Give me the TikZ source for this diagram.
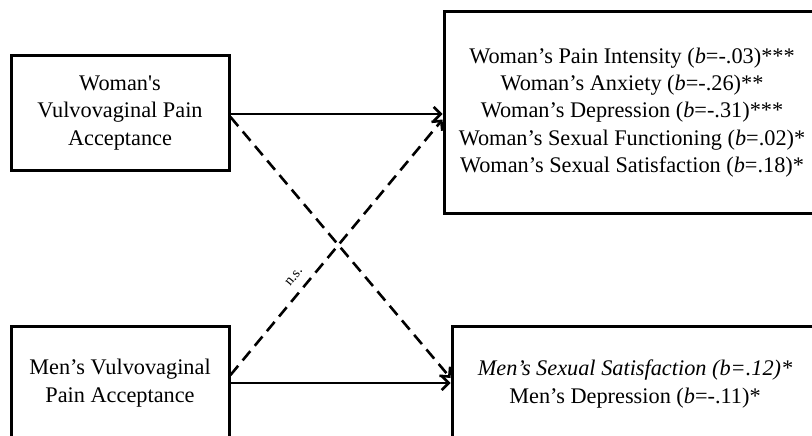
\documentclass[tikz,border=0pt]{standalone}
\usepackage{fontspec}
\setmainfont{Liberation Serif}
\usetikzlibrary{arrows.meta}
\begin{document}
\begin{tikzpicture}[x=1pt,y=-1pt,
  boxnode/.style={draw=black, line width=3pt, inner sep=0pt, align=center,
    font=\fontsize{22.3}{27.3}\selectfont},
  arr/.style={line width=2.6pt, -{Straight Barb[length=7pt,width=14pt,line width=2.6pt]}},
  dasharr/.style={arr, dash pattern=on 12pt off 7pt},
  nslabel/.style={font=\fontsize{14.5}{16}\selectfont, inner sep=0pt, above=9pt}]
\useasboundingbox (0,0) rectangle (812,436);
\node[boxnode, minimum width=218pt, minimum height=114pt] (wl) at (120,113)
  {Woman\textquotesingle s\\Vulvovaginal Pain\\Acceptance};
\node[boxnode, minimum width=376pt, minimum height=201pt] (wr) at (632,112.5)
  {Woman’s Pain Intensity (\textit{b}=-.03)***\\
   Woman’s Anxiety (\textit{b}=-.26)**\\
   Woman’s Depression (\textit{b}=-.31)***\\
   Woman’s Sexual Functioning (\textit{b}=.02)*\\
   Woman’s Sexual Satisfaction (\textit{b}=.18)*};
\node[boxnode, minimum width=218pt, minimum height=114pt] (ml) at (120,383)
  {Men’s Vulvovaginal\\Pain Acceptance};
\node[boxnode, minimum width=366pt, minimum height=116pt] (mr) at (635,384)
  {\textit{Men’s Sexual Satisfaction (b=.12)*}\\
   Men’s Depression (\textit{b}=-.11)*};
\draw[arr] ([yshift=-1pt]wl.east) -- ([yshift=-1pt]wl.east -| wr.west);
\draw[arr] (ml.east) -- (ml.east -| mr.west);
\draw[dasharr] ([yshift=-4pt]wl.east) -- ([yshift=6pt]mr.west);
\draw[dasharr] ([yshift=8pt]ml.east) -- node[pos=0.35, sloped, nslabel] {n.s.} ([yshift=-7pt]wr.west);
\end{tikzpicture}
\end{document}
